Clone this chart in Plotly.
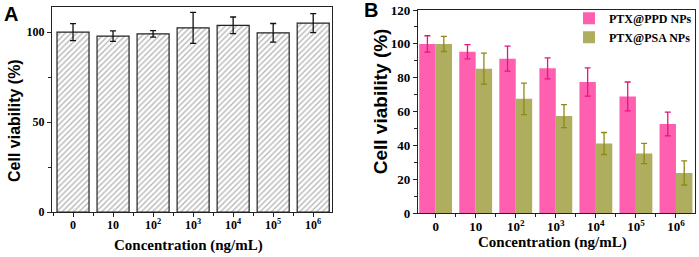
import plotly.graph_objects as go
from plotly.subplots import make_subplots

# ---- data ----
categories = [0, 1, 2, 3, 4, 5, 6]
tick_labels = ["0", "10", "10<sup>2</sup>", "10<sup>3</sup>", "10<sup>4</sup>", "10<sup>5</sup>", "10<sup>6</sup>"]

a_values = [100, 97.8, 99.0, 102.4, 103.8, 99.6, 105.0]
a_errors = [4.7, 2.9, 1.8, 8.6, 4.6, 5.2, 5.3]

ppd_values = [100, 95.4, 91.3, 85.6, 77.5, 69.0, 52.7]
ppd_errors = [4.8, 4.2, 7.4, 6.2, 8.3, 8.5, 7.0]
psa_values = [100, 85.4, 67.6, 57.4, 41.2, 35.3, 23.8]
psa_errors = [4.5, 9.2, 9.3, 6.8, 6.5, 6.0, 7.1]

series_names = ["PTX@PPD NPs", "PTX@PSA NPs"]

PINK = "#FF5FAF"
PINK_ERR = "#E8137E"
OLIVE = "#AFAD5E"
OLIVE_ERR = "#8C8A14"

fig = make_subplots(rows=1, cols=2)

fig.add_trace(go.Bar(
    x=categories, y=a_values, width=0.8,
    marker=dict(color="white", line=dict(color="#222", width=1.2),
                pattern=dict(shape="/", fgcolor="#707070", bgcolor="white", size=4, solidity=0.35)),
    error_y=dict(type="data", array=a_errors, color="#111", thickness=1.3, width=3),
    showlegend=False), row=1, col=1)

fig.add_trace(go.Bar(
    x=categories, y=ppd_values, name=series_names[0],
    marker=dict(color=PINK, line=dict(width=0)),
    error_y=dict(type="data", array=ppd_errors, color=PINK_ERR, thickness=1.3, width=3)),
    row=1, col=2)
fig.add_trace(go.Bar(
    x=categories, y=psa_values, name=series_names[1],
    marker=dict(color=OLIVE, line=dict(width=0)),
    error_y=dict(type="data", array=psa_errors, color=OLIVE_ERR, thickness=1.3, width=3)),
    row=1, col=2)

tickfont_a = dict(family="Liberation Serif", size=12, color="black", weight="bold")
tickfont_b = dict(family="Liberation Serif", size=13, color="black", weight="bold")

axis_common = dict(showline=True, linecolor="#222", linewidth=1.3, mirror=True,
                   ticks="outside", ticklen=4, tickwidth=1.2, tickcolor="#222",
                   showgrid=False, zeroline=False, automargin=False)

fig.update_xaxes(**axis_common, tickvals=categories, ticktext=tick_labels, ticklabelstandoff=-3,
                 minor=dict(ticks="outside", ticklen=3, tickwidth=1.2, tickcolor="#222",
                            tick0=0.5, dtick=1, showgrid=False))
fig.update_xaxes(domain=[0.0744, 0.475], range=[-0.525, 6.47], tickfont=tickfont_a, row=1, col=1)
fig.update_xaxes(domain=[0.598, 0.994], range=[-0.44, 6.47], tickfont=tickfont_b, row=1, col=2)

fig.update_yaxes(**axis_common)
fig.update_yaxes(domain=[0.175, 0.973], range=[0, 114], tickvals=[0, 50, 100],
                 minor=dict(ticks="outside", ticklen=3, tickwidth=1.2, tickcolor="#222",
                            tick0=0, dtick=25, showgrid=False),
                 tickfont=tickfont_a, row=1, col=1)
fig.update_yaxes(domain=[0.170, 0.961], range=[0, 120], dtick=20,
                 minor=dict(ticks="outside", ticklen=3, tickwidth=1.2, tickcolor="#222",
                            tick0=0, dtick=10, showgrid=False),
                 tickfont=tickfont_b, row=1, col=2)

xtitle_font = dict(family="Liberation Serif", size=15, color="black")
ann = [
    dict(text="<b>Concentration (ng/mL)</b>", x=0.270, y=0.045, font=xtitle_font),
    dict(text="<b>Concentration (ng/mL)</b>", x=0.790, y=0.055, font=xtitle_font),
    dict(text="<b>Cell viability (%)</b>", x=0.020, y=0.533, textangle=-90,
         font=dict(family="Liberation Sans", size=16, color="black")),
    dict(text="<b>Cell viability (%)</b>", x=0.544, y=0.607, textangle=-90,
         font=dict(family="Liberation Sans", size=19, color="black")),
    dict(text="<b>A</b>", x=0.016, y=0.945, font=dict(family="Liberation Sans", size=20, color="black")),
    dict(text="<b>B</b>", x=0.531, y=0.96, font=dict(family="Liberation Sans", size=20, color="black")),
]
for a in ann:
    a.update(xref="paper", yref="paper", showarrow=False, xanchor="center", yanchor="middle")
fig.update_layout(annotations=ann)

fig.update_layout(
    width=699, height=257, margin=dict(l=0, r=0, t=0, b=0),
    paper_bgcolor="white", plot_bgcolor="white",
    barmode="group", bargap=0.18, bargroupgap=0,
    legend=dict(x=0.814, y=0.985, xanchor="left", yanchor="top", bgcolor="rgba(0,0,0,0)",
                font=dict(family="Liberation Serif", size=12, color="black", weight="bold"),
                tracegroupgap=0),
    font=dict(family="Liberation Serif", color="black"),
)

fig.write_html("out.html", config={"displayModeBar": False},
               post_script="document.body.style.margin='0';document.body.style.overflow='hidden';")
